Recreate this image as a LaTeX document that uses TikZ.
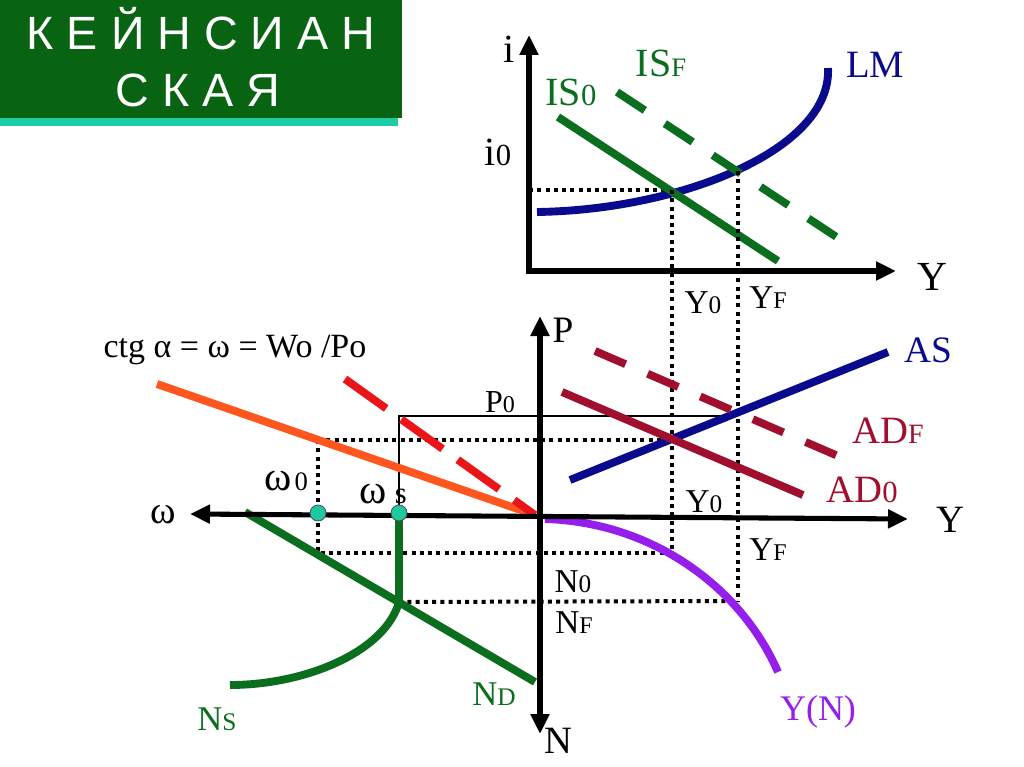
\documentclass[tikz,border=0pt]{standalone}
\usepackage{fontspec}
\setmainfont{Liberation Serif}
\newfontfamily\titlefont{Liberation Sans}
\usetikzlibrary{arrows.meta}
\definecolor{tgreen}{RGB}{8,100,18}
\definecolor{tealstrip}{RGB}{30,205,165}
\definecolor{lgreen}{RGB}{10,110,30}
\definecolor{navy}{RGB}{10,10,140}
\definecolor{adred}{RGB}{160,15,45}
\definecolor{orng}{RGB}{255,85,30}
\definecolor{rdash}{RGB}{235,20,25}
\definecolor{purp}{RGB}{150,30,235}
\definecolor{dotc}{RGB}{30,200,160}
\newcommand\fsz[2]{{\fontsize{#1}{#1}\selectfont #2}}
\tikzset{
  axis/.style={line width=3.8pt, -{Triangle[length=15pt,width=13.5pt]}},
  axisboth/.style={line width=3.8pt, {Triangle[length=15pt,width=13.5pt]}-{Triangle[length=15pt,width=13.5pt]}},
  curve/.style={line width=5.9pt},
  dashcurve/.style={line width=5.9pt, dash pattern=on 25pt off 18pt},
  longdash/.style={line width=5.9pt, dash pattern=on 38pt off 14pt},
  dotline/.style={line width=3pt, dash pattern=on 3pt off 3.2pt},
  thinline/.style={line width=0.8pt},
  lbl/.style={anchor=base, inner sep=0pt},
  mark dot/.style={circle, fill=dotc, draw=black!70, line width=0.6pt, minimum size=12pt, inner sep=0pt},
}
\begin{document}
\begin{tikzpicture}[x=0.75pt,y=-0.75pt]
\useasboundingbox (0,0) rectangle (1024,767);
\fill[white] (0,0) rectangle (1024,767);

% title
\fill[tealstrip] (0,117) rectangle (398,126);
\fill[tgreen] (0,0) rectangle (402,118);
\node[lbl, text=white, font=\titlefont\fontsize{35}{40}\selectfont] (title1) at (201,50) {К Е Й Н С И А Н};
\node[lbl, text=white, font=\titlefont\fontsize{35}{40}\selectfont] (title2) at (198,107) {С К А Я};

% ---------- top chart (IS-LM) ----------
\coordinate (O1) at (529,271);
\coordinate (iTop) at (529,35);
\coordinate (yRight1) at (896,271);
\coordinate (E0) at (672,190);
\coordinate (EF) at (738,171);
\coordinate (i0L) at (529,190);

\draw[dotline] (i0L) -- (E0);

\draw[curve, navy] (537,212) .. controls (680,210) and (832,150) .. (828,68);
\draw[curve, lgreen] (558,117) -- (778,261);
\draw[dashcurve, lgreen] (617,92) -- (838,238);

\draw[axis] ([yshift=-2]O1) -- (iTop);
\draw[axis] ([xshift=-2]O1) -- (yRight1);

\node[lbl, font=\fontsize{30}{30}\selectfont] (ilab) at (509,63) {i};
\node[lbl] (i0lab) at (498,165) {\fsz{30}{i}\fsz{23}{0}};
\node[lbl, text=lgreen] (is0lab) at (571,105) {\fsz{30}{IS}\fsz{23}{0}};
\node[lbl, text=lgreen] (isflab) at (661,77) {\fsz{30}{IS}\fsz{20}{F}};
\node[lbl, text=navy, font=\fontsize{29}{29}\selectfont] (lmlab) at (875,78) {LM};
\node[lbl, font=\fontsize{31}{31}\selectfont] (ylab1) at (932,290) {Y};
\node[lbl] (y0lab1) at (703,313) {\fsz{25}{Y}\fsz{19}{0}};
\node[lbl] (yflab1) at (768,308) {\fsz{25}{Y}\fsz{18}{F}};

% ---------- bottom chart ----------
\coordinate (O2) at (540,516);
\coordinate (pTop) at (540,316);
\coordinate (nBot) at (540,734);
\coordinate (wLeft) at (190,514);
\coordinate (yRight2) at (908,519);
\coordinate (A0) at (672,440);
\coordinate (AF) at (738,416);
\coordinate (W0top) at (318,440);
\coordinate (W0bot) at (318,553);
\coordinate (Y0bot) at (672,553);
\coordinate (Ns) at (399,602);
\coordinate (YFbot) at (738,601);
\coordinate (Wsax) at (399,516);
\coordinate (Wstop) at (399,416);

% vertical dotted connectors between charts
\draw[dotline] (E0) -- (Y0bot);
\draw[dotline] (EF) -- (YFbot);
% dotted in bottom
\draw[dotline] (W0top) -- (A0);
\draw[dotline] (W0top) -- (W0bot) -- (Y0bot);
\draw[dotline] (Ns) -- (YFbot);
% thin line
\draw[thinline] (Wsax) -- (Wstop) -- (AF);

% curves
\draw[curve, navy] (570,480) -- (888,352);
\draw[curve, adred] (562,392) -- (803,495);
\draw[dashcurve, adred] (595,351) -- (838,456);
\draw[curve, orng] (157,384) -- (535,515);
\draw[longdash, rdash] (345,379) -- (535,515);
\draw[curve, purp] (545,519) .. controls (650,522) and (740,585) .. (778,672);
\draw[curve, lgreen] (245,512) -- (535,682);
\draw[curve, lgreen] (Wsax) -- (Ns) .. controls (385,652) and (305,685) .. (230,685);

% axes
\draw[axisboth] (wLeft) -- (yRight2);
\draw[axisboth] (pTop) -- (nBot);

\node[mark dot] (w0dot) at (318,513) {};
\node[mark dot] (wsdot) at (399,513) {};

% labels
\node[lbl, font=\fontsize{25.5}{25.5}\selectfont] (ctg) at (235,357) {ctg α = ω = Wo /Po};
\node[lbl] (p0lab) at (500,412) {\fsz{24}{P}\fsz{18}{0}};
\node[lbl] (w0lab) at (286,490) {\fsz{31}{ω} \fsz{20}{0}};
\node[lbl] (wslab) at (383,503) {\fsz{31}{ω}\hspace{4pt} \fsz{23}{s}};
\node[lbl, font=\fontsize{29}{29}\selectfont] (wax) at (163,523) {ω};
\node[lbl, font=\fontsize{28}{28}\selectfont] (plab) at (563,342) {P};
\node[lbl, text=navy, font=\fontsize{28}{28}\selectfont] (aslab) at (928,362) {AS};
\node[lbl, text=adred] (adflab) at (888,443) {\fsz{29}{AD}\fsz{21}{F}};
\node[lbl, text=adred] (ad0lab) at (862,502) {\fsz{29}{AD}\fsz{23}{0}};
\node[lbl, font=\fontsize{29}{29}\selectfont] (ylab2) at (950,532) {Y};
\node[lbl] (y0lab2) at (704,512) {\fsz{25}{Y}\fsz{19}{0}};
\node[lbl] (yflab2) at (768,560) {\fsz{25}{Y}\fsz{18}{F}};
\node[lbl] (n0lab) at (573,592) {\fsz{25}{N}\fsz{19}{0}};
\node[lbl] (nflab) at (574,633) {\fsz{25}{N}\fsz{18}{F}};
\node[lbl, font=\fontsize{29}{29}\selectfont] (nlab) at (558,753) {N};
\node[lbl, text=purp, font=\fontsize{27}{27}\selectfont] (ynlab) at (818,720) {Y(N)};
\node[lbl, text=lgreen] (nslab) at (217,730) {\fsz{26}{N}\fsz{19}{S}};
\node[lbl, text=lgreen] (ndlab) at (494,705) {\fsz{26}{N}\fsz{19}{D}};
\end{tikzpicture}
\end{document}
